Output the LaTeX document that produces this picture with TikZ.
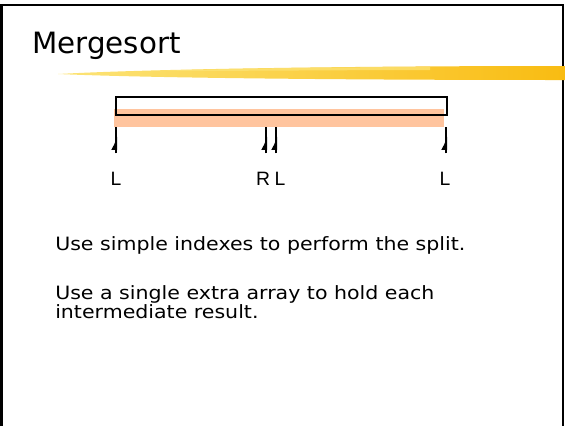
\documentclass[tikz,border=0pt]{standalone}
\usepackage{fontspec}
\setmainfont{DejaVu Sans}
\newfontfamily\bodyfont[FakeStretch=1.12]{DejaVu Sans}
\newfontfamily\labelfont{Liberation Sans}
\usetikzlibrary{arrows.meta}

\definecolor{peach}{RGB}{255,196,158}
\definecolor{goldA}{RGB}{252,228,120}
\definecolor{goldB}{RGB}{249,188,18}

\tikzset{
  frame/.style={line width=2.2pt},
  ptr/.style={line width=1.5pt},
  ptrhead/.style={line width=1.5pt, -{Latex[left,length=8pt 0,width=7.5pt 0]}},
  idx/.style={font=\labelfont\fontsize{14.5}{16}\selectfont, anchor=base, inner sep=0.75pt},
  body/.style={font=\bodyfont\fontsize{13.75}{14.25}\selectfont, anchor=base west, align=left, inner sep=0pt},
}

\begin{document}
\begin{tikzpicture}[x=0.75pt,y=0.75pt,yscale=-1,xscale=1]
\useasboundingbox (0,0) rectangle (565,426);

%Shape: Frame
\draw [frame] (1.5,426) -- (1.5,5) -- (563,5) -- (563,426) ;
%Shape: Brush stroke
\shade [left color=goldA, right color=goldB] (58,74) .. controls (150,69) and (350,66) .. (565,66) -- (565,80) .. controls (350,80) and (150,78) .. (58,74) -- cycle ;
\fill [goldA, opacity=0.7] (150,71) .. controls (250,68) and (350,67) .. (430,67) -- (430,70) .. controls (350,70) and (250,71) .. (150,71) -- cycle ;

% Text Node
\draw (32,53) node [anchor=base west][inner sep=0pt] (title) {\fontsize{22}{26}\selectfont Mergesort};

%Shape: Rectangle (extra array)
\fill [peach] (114,109) rectangle (444,127) ;
%Shape: Rectangle (array)
\draw [line width=1.5pt] (116,97) rectangle (447,115) ;

% Index pointers
\coordinate (tipA) at (116,127) ; \coordinate (headA) at (116,136) ; \coordinate (footA) at (116,153) ;
\coordinate (tipB) at (266,127) ; \coordinate (headB) at (266,136) ; \coordinate (footB) at (266,153) ;
\coordinate (tipC) at (276,127) ; \coordinate (headC) at (276,136) ; \coordinate (footC) at (276,153) ;
\coordinate (tipD) at (446,127) ; \coordinate (headD) at (446,136) ; \coordinate (footD) at (446,153) ;
\draw [ptr] (footA) -- (tipA) ;  \draw [ptrhead] (footA) -- (headA) ;
\draw [ptr] (footB) -- (tipB) ;  \draw [ptrhead] (footB) -- (headB) ;
\draw [ptr] (footC) -- (tipC) ;  \draw [ptrhead] (footC) -- (headC) ;
\draw [ptr] (footD) -- (tipD) ;  \draw [ptrhead] (footD) -- (headD) ;

% Text Node
\draw (116,185) node [idx] (lowA) {L};
% Text Node
\draw (263,185) node [idx] (highB) {R};
% Text Node
\draw (280,185) node [idx] (lowC) {L};
% Text Node
\draw (445,185) node [idx] (lowD) {L};

% Text Node
\draw (55,250) node [body] (note1) {Use simple indexes to perform the split.};
% Text Node
\draw (55,318) node [body] (note2) {Use a single extra array to hold each\\intermediate result.};

\end{tikzpicture}
\end{document}
